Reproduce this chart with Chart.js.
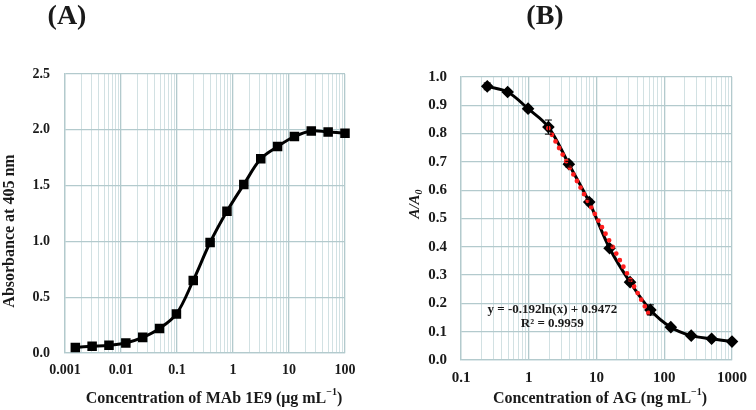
<!DOCTYPE html>
<html>
<head>
<meta charset="utf-8">
<script src="https://cdn.jsdelivr.net/npm/chart.js@4.4.1/dist/chart.umd.min.js"></script>
<style>
  html, body { margin: 0; padding: 0; background: #fff; }
  #wrap { position: relative; width: 756px; height: 410px; }
  canvas { position: absolute; top: 0; }
  #cA { left: 0; }
  #cB { left: 378px; }
</style>
</head>
<body>
<div id="wrap">
  <canvas id="cA" width="378" height="410"></canvas>
  <canvas id="cB" width="378" height="410"></canvas>
</div>
<script>
// panel A: MAb 1E9 titration
const concA = [0.00153, 0.00305, 0.0061, 0.0122, 0.0244, 0.0488, 0.0977, 0.195, 0.39, 0.78, 1.56, 3.13, 6.25, 12.5, 25, 50, 100];
const absA = [0.05, 0.06, 0.07, 0.09, 0.14, 0.22, 0.35, 0.65, 0.99, 1.27, 1.51, 1.74, 1.85, 1.94, 1.99, 1.98, 1.97];
const errA = [0.005, 0.005, 0.005, 0.005, 0.005, 0.01, 0.01, 0.01, 0.015, 0.01, 0.01, 0.01, 0.01, 0.01, 0.03, 0.01, 0.03];
const decadesA = [0.001, 0.01, 0.1, 1, 10, 100];
const tickLabelsA = ["0.001", "0.01", "0.1", "1", "10", "100"];

// panel B: AG competition curve
const concB = [0.244, 0.488, 0.977, 1.95, 3.91, 7.81, 15.6, 31.3, 62.5, 125, 250, 500, 1000];
const ratioB = [0.967, 0.947, 0.888, 0.823, 0.692, 0.558, 0.395, 0.275, 0.177, 0.116, 0.086, 0.075, 0.065];
const errB = [0.012, 0.006, 0.008, 0.025, 0.01, 0.01, 0.008, 0.008, 0.018, 0.005, 0.005, 0.005, 0.005];
const trendX = [1.95, 62.5];
const trendY = [0.819, 0.153];
const decadesB = [0.1, 1, 10, 100, 1000];
const tickLabelsB = ["0.1", "1", "10", "100", "1000"];

const FONT = "'Liberation Serif', 'Times New Roman', serif";
const TEXT = "#1a1a1a";
const GRID_MAJOR = "#b3cacd";
const GRID_MINOR = "#d2e1e3";

function logTicks(decades) {
  const out = [];
  for (let i = 0; i < decades.length - 1; i++) {
    for (let k = 1; k <= 9; k++) out.push({ value: Number((k * decades[i]).toPrecision(6)) });
  }
  out.push({ value: decades[decades.length - 1] });
  return out;
}

function majorIndex(decades, v) {
  return decades.findIndex(d => Math.abs(d - v) / d < 1e-6);
}

// draws text made of pieces, some raised or lowered
function richText(ctx, parts, x, y, size) {
  const fontOf = p => (p.italic ? "italic " : "") + "bold " + (p.sup || p.sub ? Math.round(size * 0.65) : size) + "px " + FONT;
  let total = 0;
  for (const p of parts) { ctx.font = fontOf(p); total += ctx.measureText(p.t).width; }
  let cx = x - total / 2;
  ctx.textAlign = "left";
  ctx.textBaseline = "middle";
  for (const p of parts) {
    ctx.font = fontOf(p);
    const dy = p.sup ? -size * 0.38 : p.sub ? size * 0.28 : 0;
    ctx.fillText(p.t, cx, y + dy);
    cx += ctx.measureText(p.t).width;
  }
}

const errorBars = {
  id: "errorBars",
  afterDatasetsDraw(chart, args, opts) {
    const ctx = chart.ctx;
    const xs = chart.scales.x, ys = chart.scales.y;
    const ds = chart.data.datasets[opts.dataset];
    ctx.save();
    ctx.strokeStyle = "#000";
    ctx.lineWidth = 1;
    ds.data.forEach((p, i) => {
      const e = opts.errors[i];
      const px = xs.getPixelForValue(p.x);
      const top = ys.getPixelForValue(p.y + e);
      const bot = ys.getPixelForValue(p.y - e);
      ctx.beginPath();
      ctx.moveTo(px, top); ctx.lineTo(px, bot);
      ctx.moveTo(px - 3.5, top); ctx.lineTo(px + 3.5, top);
      ctx.moveTo(px - 3.5, bot); ctx.lineTo(px + 3.5, bot);
      ctx.stroke();
    });
    ctx.restore();
  }
};

const labels = {
  id: "labels",
  afterDraw(chart, args, opts) {
    const ctx = chart.ctx;
    ctx.save();
    ctx.fillStyle = TEXT;
    ctx.font = "bold 28px " + FONT;
    ctx.textAlign = "center";
    ctx.textBaseline = "middle";
    ctx.fillText(opts.panel, opts.panelX, 17);
    richText(ctx, opts.xTitle, opts.xTitleX, 399, 16);
    ctx.translate(opts.yTitleX, opts.yTitleY);
    ctx.rotate(-Math.PI / 2);
    richText(ctx, opts.yTitle, 0, 0, opts.yTitleSize);
    ctx.restore();
    if (opts.note) {
      const a = chart.chartArea;
      ctx.save();
      ctx.fillStyle = TEXT;
      const cx = a.left + 0.337 * (a.right - a.left);
      richText(ctx, [{ t: opts.note[0] }], cx, a.top + 0.823 * (a.bottom - a.top), 13);
      richText(ctx, [{ t: opts.note[1] }], cx, a.top + 0.873 * (a.bottom - a.top), 13);
      ctx.restore();
    }
  }
};

function logAxis(decades, tickLabels, xHeight, size) {
  return {
    type: "logarithmic",
    min: decades[0],
    max: decades[decades.length - 1],
    afterBuildTicks: scale => { scale.ticks = logTicks(decades); },
    afterFit: scale => { scale.height = xHeight; },
    ticks: {
      autoSkip: false,
      maxRotation: 0,
      padding: 9,
      color: TEXT,
      font: { family: FONT, size: size, weight: "bold" },
      callback: v => {
        const i = majorIndex(decades, v);
        return i >= 0 ? tickLabels[i] : "";
      }
    },
    grid: {
      drawTicks: false,
      color: c => majorIndex(decades, c.tick.value) >= 0 ? GRID_MAJOR : GRID_MINOR,
      lineWidth: c => majorIndex(decades, c.tick.value) >= 0 ? 1.3 : 1
    },
    border: { color: GRID_MAJOR, width: 1.3 }
  };
}

function linAxis(max, step, yWidth, pad, size) {
  return {
    min: 0,
    max: max,
    afterFit: scale => { scale.width = yWidth; },
    ticks: {
      stepSize: step,
      padding: pad,
      color: TEXT,
      font: { family: FONT, size: size, weight: "bold" },
      callback: v => v.toFixed(1)
    },
    grid: { drawTicks: false, color: GRID_MAJOR, lineWidth: 1.3 },
    border: { color: GRID_MAJOR, width: 1.3 }
  };
}

new Chart(document.getElementById("cA"), {
  type: "line",
  data: {
    datasets: [{
      data: concA.map((c, i) => ({ x: c, y: absA[i] })),
      borderColor: "#000",
      borderWidth: 3,
      tension: 0.35,
      pointStyle: "rect",
      pointRadius: 4.6,
      pointBackgroundColor: "#000",
      pointBorderColor: "#000",
      clip: false
    }]
  },
  options: {
    responsive: false,
    animation: false,
    layout: { padding: { top: 74, right: 33, left: 0, bottom: 0 } },
    scales: { x: logAxis(decadesA, tickLabelsA, 57, 14), y: linAxis(2.5, 0.5, 65, 15, 14) },
    plugins: {
      legend: { display: false },
      tooltip: { enabled: false },
      errorBars: { dataset: 0, errors: errA },
      labels: {
        panel: "(A)", panelX: 67,
        xTitle: [{ t: "Concentration of MAb 1E9 (\u03bcg mL" }, { t: "\u22121", sup: true }, { t: ")" }],
        xTitleX: 214,
        yTitle: [{ t: "Absorbance at 405 nm" }],
        yTitleSize: 16,
        yTitleX: 10, yTitleY: 231
      }
    }
  },
  plugins: [errorBars, labels]
});

new Chart(document.getElementById("cB"), {
  type: "line",
  data: {
    datasets: [{
      data: trendX.map((c, i) => ({ x: c, y: trendY[i] })),
      borderColor: "#ff1f1f",
      borderWidth: 4.8,
      borderDash: [0, 7.5],
      borderCapStyle: "round",
      pointRadius: 0,
      order: -1
    }, {
      data: concB.map((c, i) => ({ x: c, y: ratioB[i] })),
      borderColor: "#000",
      borderWidth: 3,
      tension: 0.35,
      pointStyle: "rectRot",
      pointRadius: 4.2,
      pointBackgroundColor: "#000",
      pointBorderColor: "#000",
      clip: false
    }]
  },
  options: {
    responsive: false,
    animation: false,
    layout: { padding: { top: 77, right: 17, left: 0, bottom: 0 } },
    scales: { x: logAxis(decadesB, tickLabelsB, 50, 15), y: linAxis(1.0, 0.1, 83, 14, 15) },
    plugins: {
      legend: { display: false },
      tooltip: { enabled: false },
      errorBars: { dataset: 1, errors: errB },
      labels: {
        panel: "(B)", panelX: 167,
        xTitle: [{ t: "Concentration of AG (ng mL" }, { t: "\u22121", sup: true }, { t: ")" }],
        xTitleX: 222,
        yTitle: [{ t: "A/A", italic: true }, { t: "0", italic: true, sub: true }],
        yTitleSize: 15,
        yTitleX: 37, yTitleY: 204,
        note: ["y = -0.192ln(x) + 0.9472", "R\u00b2 = 0.9959"]
      }
    }
  },
  plugins: [errorBars, labels]
});
</script>
</body>
</html>
